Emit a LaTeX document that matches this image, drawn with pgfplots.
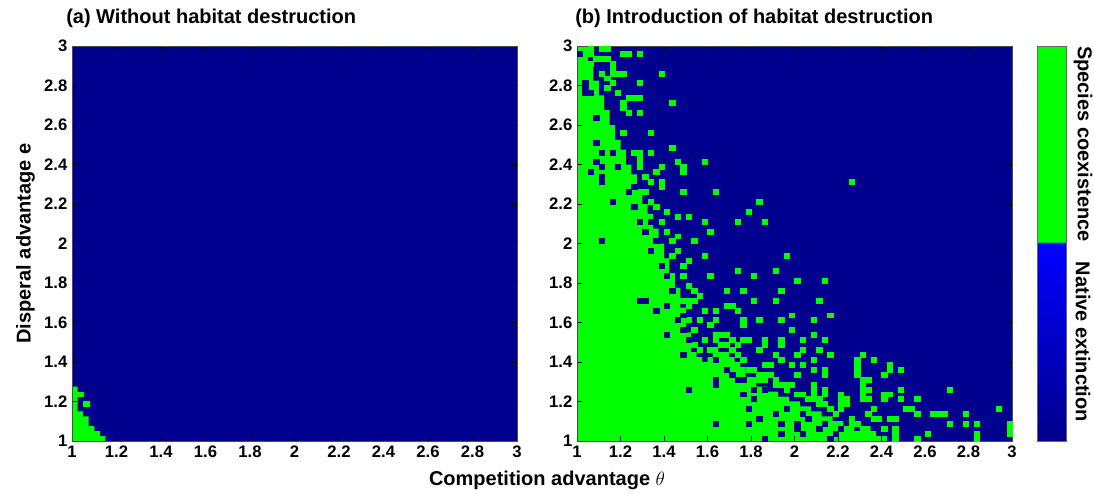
\documentclass[border=0pt]{standalone}
\usepackage{fontspec}
\setmainfont{Liberation Sans}
\usepackage{pgfplots}
\pgfplotsset{compat=1.18}
\definecolor{navy}{RGB}{0,0,143}
\definecolor{lime}{RGB}{0,255,0}

% cells of the 80 x 80 parameter grid: axis runs in cell units 0..80 (= 1..3)
\pgfplotsset{
  heat/.style={
    scale only axis, height=296.25pt,
    xmin=0, xmax=80, ymin=0, ymax=80,
    enlargelimits=false, axis on top,
    xtick={0,8,...,80}, ytick={0,8,...,80},
    xticklabels={1,1.2,1.4,1.6,1.8,2,2.2,2.4,2.6,2.8,3},
    yticklabels={1,1.2,1.4,1.6,1.8,2,2.2,2.4,2.6,2.8,3},
    tick align=inside, major tick length=3.5pt,
    tick style={black, line width=0.5pt},
    axis line style={black!70, line width=0.5pt},
    tick label style={font=\bfseries\fontsize{12.5}{14}\selectfont},
    /pgf/number format/assume math mode=true,
  },
}

\begin{document}
\begin{tikzpicture}[x=0.75pt, y=0.75pt]
\useasboundingbox (0,0) rectangle (1094,495);

% (a) without habitat destruction
\begin{axis}[heat, at={(54pt,40.5pt)}, anchor=south west, width=333.75pt,
  ylabel={Disperal advantage e},
  ylabel style={font=\bfseries\fontsize{15}{18}\selectfont}]
\addplot[fill=navy, draw=none] coordinates {(0,0) (80,0) (80,80) (0,80)};
\addplot[fill=lime, draw=none, const plot mark left] coordinates {
  (0,0) (0,11) (1,6) (2,5) (3,3) (4,2) (5,1) (6,0)};
\addplot[only marks, mark=square*, mark size=2.086pt,
  mark options={fill=lime, draw=lime, line width=0.1pt, yscale=0.888}]
  coordinates {(1.5,9.5) (2.5,7.5)};
\end{axis}

% (b) introduction of habitat destruction
\begin{axis}[heat, at={(432.75pt,40.5pt)}, anchor=south west, width=326.25pt,
  point meta min=0, point meta max=2,
  colormap={hab}{[1pt] rgb255(0pt)=(0,0,140); rgb255(100pt)=(0,0,255); rgb255(101pt)=(0,255,0); rgb255(200pt)=(0,255,0)},
  colorbar, colorbar/width=21.75pt,
  colorbar style={at={(1.0575,1)}, anchor=north west, scale only axis,
    width=21.75pt, height=296.25pt, ytick=\empty,
    axis line style={black!60, line width=0.5pt}}]
\addplot[fill=navy, draw=none] coordinates {(0,0) (80,0) (80,80) (0,80)};
% main coexistence region: height of the solid green column in each cell column
\addplot[fill=lime, draw=none, const plot mark left] coordinates {
  (0,0) (0,80) (1,80) (2,76) (3,73) (4,70) (5,67) (6,64) (7,61) (8,59) (9,56)
  (10,54) (11,51) (12,48) (13,46) (14,43) (15,40) (16,37) (17,34) (18,31) (19,27)
  (20,22) (21,18) (22,17) (23,16) (24,17) (25,19) (26,18) (27,18) (28,17) (29,16)
  (30,15) (31,13) (32,12) (33,11) (34,11) (35,10) (36,10) (37,9) (38,9) (39,8)
  (40,8) (41,7) (42,7) (43,6) (44,6) (45,5) (46,5) (47,4) (48,4) (49,3)
  (50,3) (51,2) (52,3) (53,3) (54,2) (55,1) (56,1) (57,0)};
% scattered coexistence cells
\addplot[only marks, mark=square*, mark size=2.039pt,
  mark options={fill=lime, draw=lime, line width=0.1pt, yscale=0.908}]
  coordinates {
  (2.5,79.5) (2.5,78.5) (4.5,79.5) (5.5,79.5) (8.5,78.5) (9.5,78.5) (11.5,78.5) (3.5,77.5) (4.5,77.5) (5.5,77.5)
  (2.5,76.5) (6.5,76.5) (6.5,75.5) (4.5,74.5) (5.5,73.5) (6.5,74.5) (7.5,74.5) (8.5,74.5) (15.5,74.5) (6.5,72.5)
  (5.5,71.5) (11.5,72.5) (7.5,70.5) (9.5,69.5) (10.5,69.5) (11.5,69.5) (17.5,68.5) (8.5,67.5) (8.5,68.5) (9.5,66.5)
  (11.5,66.5) (8.5,62.5) (13.5,62.5) (17.5,59.5) (10.5,58.5) (11.5,58.5) (13.5,58.5) (11.5,55.5) (11.5,56.5) (11.5,57.5)
  (18.5,56.5) (23.5,56.5) (15.5,55.5) (19.5,55.5)
  (25.5,50.5) (19.5,50.5) (15.5,51.5) (15.5,52.5) (13.5,48.5) (16.5,46.5) (18.5,45.5) (20.5,45.5) (23.5,44.5) (24.5,42.5)
  (21.5,40.5) (23.5,37.5) (20.5,36.5) (24.5,33.5) (14.5,47.5) (12.5,50.5) (16.5,42.5) (17.5,40.5) (18.5,38.5) (19.5,35.5)
  (17.5,37.5) (19.5,33.5) (20.5,31.5) (21.5,30.5) (22.5,29.5) (20.5,27.5) (21.5,28.5) (20.5,28.5) (18.5,41.5) (15.5,44.5)
  (14.5,54.5) (19.5,54.5) (12.5,53.5) (13.5,52.5)
  (19.5,28.5) (20.5,24.5) (21.5,22.5) (21.5,19.5) (22.5,24.5) (23.5,20.5) (24.5,23.5) (22.5,18.5) (24.5,18.5) (23.5,26.5)
  (50.5,52.5) (33.5,48.5) (31.5,46.5) (29.5,44.5) (34.5,44.5) (38.5,37.5) (29.5,34.5) (32.5,33.5) (36.5,34.5) (40.5,32.5)
  (45.5,32.5) (27.5,30.5) (30.5,30.5) (37.5,30.5) (32.5,28.5) (36.5,28.5) (44.5,28.5)
  (27.5,27.5) (28.5,27.5) (25.5,26.5) (29.5,26.5) (39.5,25.5) (46.5,25.5) (25.5,24.5) (30.5,24.5) (30.5,23.5) (33.5,24.5)
  (37.5,24.5) (39.5,22.5) (43.5,24.5) (43.5,21.5) (25.5,21.5) (26.5,21.5) (27.5,21.5) (28.5,20.5) (30.5,20.5) (31.5,20.5)
  (34.5,20.5) (37.5,20.5) (37.5,19.5) (41.5,20.5) (45.5,20.5) (33.5,18.5) (34.5,19.5) (41.5,18.5) (44.5,18.5) (36.5,17.5)
  (40.5,17.5) (46.5,17.5) (52.5,17.5) (37.5,16.5) (43.5,16.5) (39.5,15.5) (41.5,15.5) (34.5,15.5) (35.5,15.5) (43.5,14.5)
  (45.5,14.5) (45.5,13.5) (51.5,13.5) (51.5,14.5) (51.5,15.5) (51.5,16.5) (34.5,13.5) (35.5,13.5) (40.5,13.5) (52.5,12.5)
  (38.5,11.5) (39.5,11.5) (43.5,8.5) (43.5,9.5) (43.5,10.5) (43.5,11.5) (45.5,9.5) (45.5,10.5) (48.5,9.5) (48.5,8.5)
  (49.5,8.5) (48.5,7.5) (49.5,7.5) (48.5,6.5) (52.5,8.5) (52.5,9.5) (52.5,10.5) (52.5,11.5) (44.5,7.5) (45.5,7.5)
  (44.5,8.5) (32.5,12.5) (33.5,12.5) (34.5,12.5) (36.5,11.5) (37.5,11.5) (38.5,10.5) (40.5,9.5) (41.5,9.5) (42.5,8.5)
  (31.5,14.5) (32.5,14.5) (33.5,13.5) (36.5,12.5) (30.5,16.5) (29.5,17.5) (28.5,18.5) (26.5,19.5) (27.5,19.5) (25.5,20.5)
  (29.5,19.5)
  (54.5,16.5) (57.5,14.5) (57.5,15.5) (59.5,14.5) (56.5,13.5) (53.5,12.5) (53.5,10.5) (56.5,9.5) (57.5,9.5) (56.5,8.5)
  (59.5,10.5) (68.5,10.5) (53.5,8.5) (59.5,8.5) (62.5,8.5) (54.5,6.5) (60.5,6.5) (61.5,6.5) (77.5,6.5) (53.5,5.5)
  (62.5,5.5) (65.5,5.5) (66.5,5.5) (67.5,5.5) (71.5,5.5) (54.5,4.5) (55.5,4.5) (57.5,4.5) (58.5,4.5) (68.5,3.5)
  (71.5,3.5) (73.5,3.5) (56.5,2.5) (58.5,0.5) (58.5,1.5) (58.5,2.5) (64.5,1.5) (62.5,0.5) (73.5,1.5) (73.5,0.5)
  (79.5,1.5) (79.5,2.5) (79.5,3.5) (50.5,3.5) (51.5,3.5) (50.5,4.5) (47.5,5.5) (46.5,6.5) (50.5,1.5)};
% extinction cells inside the coexistence region
\addplot[only marks, mark=square*, mark size=2.039pt,
  mark options={fill=navy, draw=navy, line width=0.1pt, yscale=0.908}]
  coordinates {
  (0.5,78.5) (1.5,72.5) (1.5,71.5) (1.5,70.5) (2.5,70.5) (3.5,65.5) (3.5,60.5) (4.5,58.5) (3.5,56.5) (4.5,55.5)
  (2.5,54.5) (4.5,52.5) (4.5,53.5) (4.5,40.5) (6.5,58.5) (7.5,55.5) (6.5,48.5) (9.5,50.5) (10.5,47.5) (11.5,44.5)
  (12.5,42.5) (13.5,38.5) (14.5,40.5) (15.5,35.5) (16.5,33.5) (17.5,30.5) (11.5,28.5) (12.5,28.5) (14.5,26.5) (16.5,27.5)
  (16.5,21.5) (19.5,17.5) (18.5,24.5) (19.5,25.5) (20.5,10.5) (25.5,3.5) (25.5,11.5) (25.5,16.5) (25.5,12.5) (29.5,12.5)
  (30.5,12.5) (32.5,10.5) (34.5,10.5) (32.5,8.5) (31.5,6.5) (33.5,4.5) (36.5,5.5) (31.5,3.5) (37.5,3.5) (40.5,3.5)
  (41.5,5.5) (37.5,1.5) (40.5,2.5) (41.5,1.5) (34.5,0.5) (27.5,14.5) (28.5,13.5) (30.5,9.5) (38.5,6.5) (42.5,4.5)
  (44.5,2.5) (45.5,3.5) (46.5,0.5) (47.5,1.5) (48.5,2.5) (13.5,44.5) (10.5,51.5) (20.5,20.5) (19.5,22.5)};
\end{axis}

\node[anchor=west, inner sep=0, font=\bfseries\fontsize{15}{18}\selectfont] at (66,477) {(a) Without habitat destruction};
\node[anchor=west, inner sep=0, font=\bfseries\fontsize{15}{18}\selectfont] at (575,477) {(b) Introduction of habitat destruction};
\node[inner sep=0, font=\bfseries\fontsize{15}{18}\selectfont] at (547,15) {Competition advantage $\theta$};
\node[rotate=-90, inner sep=0, font=\bfseries\fontsize{15}{18}\selectfont] at (1083,351) {Species coexistence};
\node[rotate=-90, inner sep=0, font=\bfseries\fontsize{15}{18}\selectfont] at (1083,153) {Native extinction};
\end{tikzpicture}
\end{document}
